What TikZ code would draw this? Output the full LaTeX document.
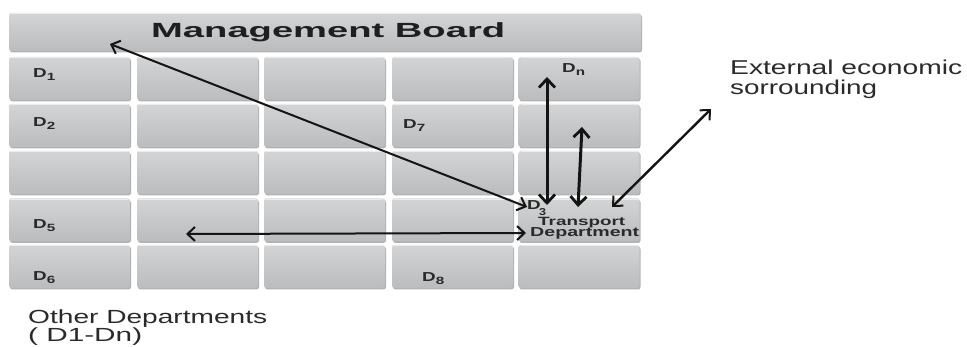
\documentclass[tikz,border=0pt]{standalone}
\usepackage{fontspec}
\setmainfont{Liberation Sans}
\newfontfamily\dfont[FakeStretch=1.45]{Liberation Sans}
\usetikzlibrary{arrows.meta,shadows}
\newcommand{\wb}[2]{\resizebox{#1}{\height}{#2}}
\newcommand{\dsub}[1]{\raisebox{-2.5pt}{\fontsize{10.5}{11}\selectfont #1}}
\definecolor{cellface}{HTML}{C5C6C8}
\definecolor{celltop}{HTML}{D3D4D6}
\definecolor{cellbot}{HTML}{BBBCBE}
\definecolor{txt}{HTML}{2A2A2A}
\begin{document}
\begin{tikzpicture}[x=1pt,y=-1pt,
  cell/.style={draw=none, rounded corners=2.5pt, top color=celltop, bottom color=cellbot,
    minimum width=121pt, minimum height=43pt, inner sep=0pt,
    drop shadow={shadow xshift=1pt, shadow yshift=-1.5pt, fill=black!55, opacity=.55},
    path picture={\draw[white!85!gray, line width=1.2pt]
      ([xshift=2pt,yshift=-0.8pt]path picture bounding box.north west) --
      ([xshift=-2pt,yshift=-0.8pt]path picture bounding box.north east);}},
  board/.style={cell, minimum width=632pt, minimum height=38pt},
  dl/.style={font=\dfont\bfseries\fontsize{13}{14}\selectfont, text=txt, inner sep=0pt, anchor=base west},
  lbl/.style={text=txt, inner sep=0pt, anchor=base west},
  arr/.style={{Straight Barb[length=7.5pt,width=14pt,line width=2pt]}-{Straight Barb[length=7.5pt,width=14pt,line width=2pt]}, line width=2pt, black!92},
  tarr/.style={{Straight Barb[length=8.5pt,width=16pt,line width=2.8pt]}-{Straight Barb[length=8.5pt,width=16pt,line width=2.8pt]}, line width=3pt, black!92}
]
\useasboundingbox[fill=white] (0,0) rectangle (967,347);

% management board
\node[board] (mb) at (325,32) {};
\node[lbl, text=black!88] (mbt) at (151,38) {\wb{354pt}{\bfseries\fontsize{20.5}{21}\selectfont Management Board}};

% grid of departments
\foreach \r/\y in {1/78.5,2/125.5,3/172.5,4/220,5/266.5}{
  \foreach \c/\x in {1/69.5,2/197.5,3/324.5,4/452.5,5/579}{
    \node[cell] (c\r\c) at (\x,\y) {};
  }
}

% department labels
\node[dl] (d1) at (33,78) {D\dsub{1}};
\node[dl] (d2) at (33,127) {D\dsub{2}};
\node[dl] (d5) at (33,229) {D\dsub{5}};
\node[dl] (d6) at (33,281) {D\dsub{6}};
\node[dl] (d7) at (403,129) {D\dsub{7}};
\node[dl] (d8) at (422,282) {D\dsub{8}};
\node[dl] (dn) at (562,73) {D\dsub{n}};

% transport department
\node[dl] (d3) at (527,210) {D};
\node[lbl] (d3n) at (539,215.5) {\wb{7pt}{\bfseries\fontsize{10}{11}\selectfont 3}};
\node[lbl] (tr) at (538,225.5) {\wb{87pt}{\bfseries\fontsize{12}{12}\selectfont Transport}};
\node[lbl] (dep) at (530,237) {\wb{109pt}{\bfseries\fontsize{13}{13}\selectfont Department}};

% side texts
\node[lbl] (ext1) at (730,75) {\wb{232pt}{\fontsize{20}{21}\selectfont External economic}};
\node[lbl] (ext2) at (730,95) {\wb{147pt}{\fontsize{20}{21}\selectfont sorrounding}};
\node[lbl] (oth1) at (28,324) {\wb{239pt}{\fontsize{19}{20}\selectfont Other Departments}};
\node[lbl] (oth2) at (28,342) {\wb{114pt}{\fontsize{19}{20}\selectfont ( D1-Dn)}};

% arrow end points
\coordinate (mbP) at (110,44);
\coordinate (d3P) at (527,207);
\coordinate (c42P) at (186,234);
\coordinate (depP) at (526,233);
\coordinate (dnP) at (547,77);
\coordinate (d3aP) at (547,205);
\coordinate (c25P) at (582,127);
\coordinate (d3bP) at (578,207);
\coordinate (d3cP) at (612,207);
\coordinate (extP) at (711,109);

\draw[arr] (mbP) -- (d3P);
\draw[arr] (c42P) -- (depP);
\draw[tarr] (dnP) -- (d3aP);
\draw[tarr] (c25P) -- (d3bP);
\draw[arr, line width=2.4pt] (d3cP) -- (extP);
\end{tikzpicture}
\end{document}
